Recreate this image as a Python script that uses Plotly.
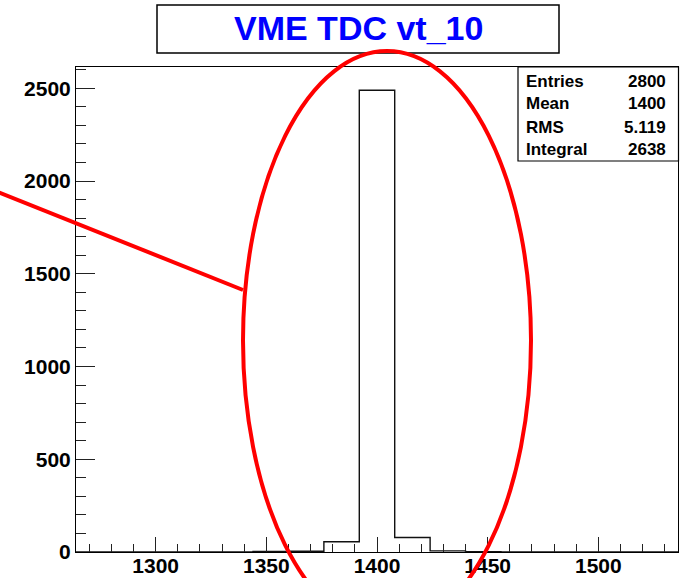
import plotly.graph_objects as go

# ---- data ----
bin_edges = [1264, 1280, 1296, 1312, 1328, 1344, 1360, 1376, 1392, 1408,
             1424, 1440, 1456, 1472, 1488, 1504, 1520, 1536]
bin_counts = [0, 0, 0, 0, 0, 3, 4, 55, 2490, 78, 6, 2, 0, 0, 0, 0, 0]
title_text = "VME TDC vt_10"
stat_labels = ["Entries", "Mean", "RMS", "Integral"]
stat_values = ["2800", "1400", "5.119", "2638"]

# ---- layout geometry (pixels) ----
FW, FH = 685, 578
L, R, T, B = 76, 678, 67, 552
W, H = R - L, B - T


def px_x(px):
    return (px - L) / W


def px_y(py):
    return (B - py) / H


FONT = "Liberation Sans, Arial, sans-serif"

fig = go.Figure()
fig.add_trace(go.Scatter(
    x=bin_edges,
    y=bin_counts + [bin_counts[-1]],
    mode="lines",
    line=dict(shape="hv", color="#111111", width=1.4),
    hoverinfo="skip",
    showlegend=False,
))

shapes = []
annotations = []

# title box
shapes.append(dict(type="rect", xref="paper", yref="paper",
                   x0=px_x(157), x1=px_x(559), y0=px_y(53), y1=px_y(5),
                   line=dict(color="black", width=1.5), fillcolor="white",
                   layer="above"))
annotations.append(dict(xref="paper", yref="paper", x=px_x(358), y=px_y(28),
                        text="<b>" + title_text + "</b>", showarrow=False,
                        xanchor="center", yanchor="middle",
                        font=dict(family=FONT, size=34, color="#0000ff")))

# stats box
shapes.append(dict(type="rect", xref="paper", yref="paper",
                   x0=px_x(518), x1=px_x(678.5), y0=px_y(161), y1=px_y(67),
                   line=dict(color="black", width=1.2), fillcolor="white",
                   layer="above"))
row_y = [81, 104, 127, 150]
for lab, val, yy in zip(stat_labels, stat_values, row_y):
    annotations.append(dict(xref="paper", yref="paper", x=px_x(524), y=px_y(yy),
                            text="<b>" + lab + "</b>", showarrow=False,
                            xanchor="left", yanchor="middle",
                            font=dict(family=FONT, size=17, color="black")))
    annotations.append(dict(xref="paper", yref="paper", x=px_x(668), y=px_y(yy),
                            text="<b>" + val + "</b>", showarrow=False,
                            xanchor="right", yanchor="middle",
                            font=dict(family=FONT, size=17, color="black")))

# red hand-drawn annotation: ellipse + line
shapes.append(dict(type="circle", xref="paper", yref="paper",
                   x0=px_x(243), x1=px_x(531), y0=px_y(630), y1=px_y(51),
                   line=dict(color="#ff0000", width=4), layer="above"))
shapes.append(dict(type="line", xref="paper", yref="paper",
                   x0=px_x(-2), y0=px_y(192), x1=px_x(243), y1=px_y(290),
                   line=dict(color="#ff0000", width=4), layer="above"))

tickfont = dict(family=FONT, size=21, color="black", weight="bold")

fig.update_layout(
    width=FW, height=FH, autosize=False,
    margin=dict(l=L, r=FW - R, t=T, b=FH - B, pad=0),
    paper_bgcolor="white", plot_bgcolor="white",
    shapes=shapes, annotations=annotations,
    xaxis=dict(range=[1264, 1536], showgrid=False, zeroline=False,
               automargin=False, ticklabelstandoff=-5,
               showline=True, linecolor="black", linewidth=1, mirror=True,
               ticks="inside", ticklen=15, tickwidth=1, tickcolor="#222",
               tick0=1300, dtick=50, tickfont=tickfont,
               minor=dict(ticks="inside", ticklen=8, dtick=10, tick0=1300,
                          tickcolor="#222", tickwidth=1, showgrid=False)),
    yaxis=dict(range=[0, 2615], showgrid=False, zeroline=False,
               automargin=False,
               showline=True, linecolor="black", linewidth=1, mirror=True,
               ticks="inside", ticklen=19, tickwidth=1, tickcolor="#222",
               tick0=0, dtick=500, tickfont=tickfont,
               minor=dict(ticks="inside", ticklen=10, dtick=100, tick0=0,
                          tickcolor="#222", tickwidth=1, showgrid=False)),
)

fig.write_html("out.html")
